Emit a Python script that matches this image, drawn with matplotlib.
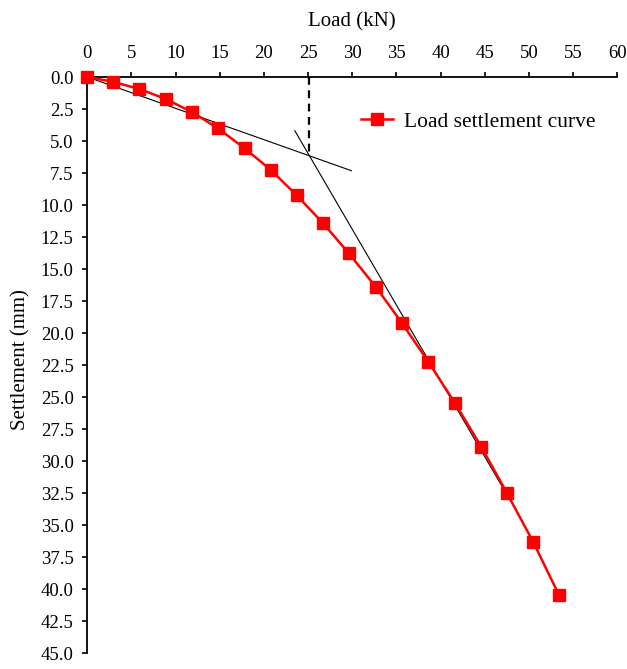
import numpy as np
import matplotlib.pyplot as plt

plt.rcParams['font.family'] = ['Liberation Serif', 'DejaVu Serif']

# load-settlement data
load = [0, 2.9, 5.9, 8.9, 11.9, 14.8, 17.8, 20.8, 23.7, 26.7,
        29.6, 32.7, 35.6, 38.6, 41.6, 44.6, 47.5, 50.5, 53.4]
settlement = [0, 0.37, 0.94, 1.72, 2.76, 4.01, 5.57, 7.27, 9.24, 11.43,
              13.77, 16.43, 19.2, 22.24, 25.45, 28.88, 32.5, 36.35, 40.47]

# tangent lines (start/end points) and the intersection point
tangent1_x = [0, 29.9]
tangent1_y = [0, 7.32]
tangent2_x = [23.5, 47.9]
tangent2_y = [4.2, 33.1]
yield_load = 25.1
yield_settle = 6.15

fig = plt.figure(figsize=(6.27, 6.69), dpi=100)
ax = fig.add_axes([0.1392, 0.0239, 0.8453, 0.861])

ax.plot(tangent1_x, tangent1_y, color='black', lw=0.8)
ax.plot(tangent2_x, tangent2_y, color='black', lw=0.8)
ax.plot([yield_load, yield_load], [0, yield_settle], color='black', lw=1.6, ls=(0, (3.5, 2.5)))
ax.plot(load, settlement, color='red', lw=1.8, marker='s', markersize=8,
        label='Load settlement curve', zorder=3, clip_on=False)

ax.set_xlim(0, 60)
ax.set_ylim(45, 0)
ax.set_xticks(np.arange(0, 61, 5))
ax.set_yticks(np.arange(0, 45.1, 2.5))
ax.set_yticklabels([f'{v:.1f}' for v in np.arange(0, 45.1, 2.5)])

ax.xaxis.tick_top()
ax.xaxis.set_label_position('top')
ax.spines['right'].set_visible(False)
ax.spines['bottom'].set_visible(False)
ax.spines['top'].set_linewidth(1.3)
ax.spines['left'].set_linewidth(1.3)
ax.tick_params(direction='out', length=3.8, width=1.2, labelsize=13.5, colors='black')
ax.tick_params(axis='x', pad=7)
ax.tick_params(axis='y', pad=6)

ax.set_xlabel('Load (kN)', fontsize=15)
ax.set_ylabel('Settlement (mm)', fontsize=15)
ax.xaxis.set_label_coords(0.5, 1.087)
ax.yaxis.set_label_coords(-0.107, 0.51)

ax.legend(loc='center left', bbox_to_anchor=(0.517, 0.922), frameon=False,
          fontsize=15.5, borderpad=0, borderaxespad=0, handlelength=1.45,
          handletextpad=0.55)

fig.savefig('out.png', dpi=100)
